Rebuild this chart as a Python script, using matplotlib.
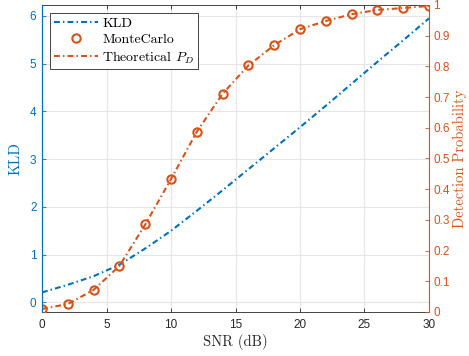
import numpy as np
import matplotlib.pyplot as plt

plt.rcParams['mathtext.fontset'] = 'cm'
plt.rcParams['font.family'] = ['Liberation Sans', 'DejaVu Sans']

# data
snr = [0, 2, 4, 6, 8, 10, 12, 14, 16, 18, 20, 22, 24, 26, 28, 30]
kld = [0.21, 0.37, 0.55, 0.79, 1.13, 1.50, 1.92, 2.35, 2.79, 3.23, 3.67, 4.12, 4.58, 5.04, 5.49, 5.95]
pd_mc = [0.010, 0.026, 0.072, 0.150, 0.285, 0.433, 0.587, 0.711, 0.803, 0.869,
         0.921, 0.948, 0.970, 0.984, 0.990, 0.997]
pd_theory = pd_mc

xticks = [0, 5, 10, 15, 20, 25, 30]
kld_ticks = [0, 1, 2, 3, 4, 5, 6]
pd_ticks = np.round(np.arange(0, 1.01, 0.1), 1)

blue = '#0072BD'
orange = '#D95319'
serif = 'cmr10'
dashdot = (0, (2.8, 1.5, 0.7, 1.5))

fig = plt.figure(figsize=(4.69, 3.56), dpi=100)
ax = fig.add_axes([0.0896, 0.1236, 0.8251, 0.8624])
ax2 = ax.twinx()

l1, = ax.plot(snr, kld, color=blue, linestyle=dashdot, linewidth=1.5, label='KLD')
l2, = ax2.plot(snr, pd_mc, color=orange, linestyle='none', marker='o', markersize=6,
               markerfacecolor='none', markeredgewidth=1.5, label='MonteCarlo')
l3, = ax2.plot(snr, pd_theory, color=orange, linestyle=dashdot, linewidth=1.5,
               label='Theoretical $P_D$')

ax.set_xlim(0, 30)
ax.set_ylim(-0.2, 6.23)
ax2.set_ylim(0, 1)
ax.set_xticks(xticks)
ax.set_yticks(kld_ticks)
ax2.set_yticks(pd_ticks)
ax2.set_yticklabels([('%g' % t) for t in pd_ticks])

ax.grid(True, color='#e6e6e6', linewidth=0.8)
ax.set_axisbelow(True)

for a in (ax, ax2):
    a.tick_params(direction='in', length=3, labelsize=8.5, width=0.6)
ax.tick_params(axis='x', colors='#262626', top=True, pad=5)
ax.tick_params(axis='y', colors=blue, pad=4)
ax2.tick_params(axis='y', colors=orange, pad=3)

for s in ('top', 'bottom'):
    ax.spines[s].set_color('#262626')
    ax.spines[s].set_linewidth(0.6)
ax2.spines['left'].set_color(blue)
ax2.spines['right'].set_color(orange)
ax2.spines['top'].set_visible(False)
ax2.spines['bottom'].set_visible(False)
ax.spines['left'].set_color(blue)
ax.spines['right'].set_visible(False)

ax.set_xlabel('SNR (dB)', family=serif, fontsize=10.5, color='#262626', labelpad=2)
ax.set_ylabel('KLD', family=serif, fontsize=11, color=blue, labelpad=5)
ax2.set_ylabel('Detection Probability', family=serif, fontsize=10.5, color=orange, labelpad=2)

leg = ax2.legend(handles=[l1, l2, l3], loc='upper left', prop={'family': serif, 'size': 10},
                 fancybox=False, edgecolor='#262626', framealpha=1,
                 handlelength=3.2, borderaxespad=0.6, labelspacing=0.25,
                 borderpad=0.25, handletextpad=0.3)
leg.get_frame().set_linewidth(0.6)

fig.savefig('out.png', dpi=100)
